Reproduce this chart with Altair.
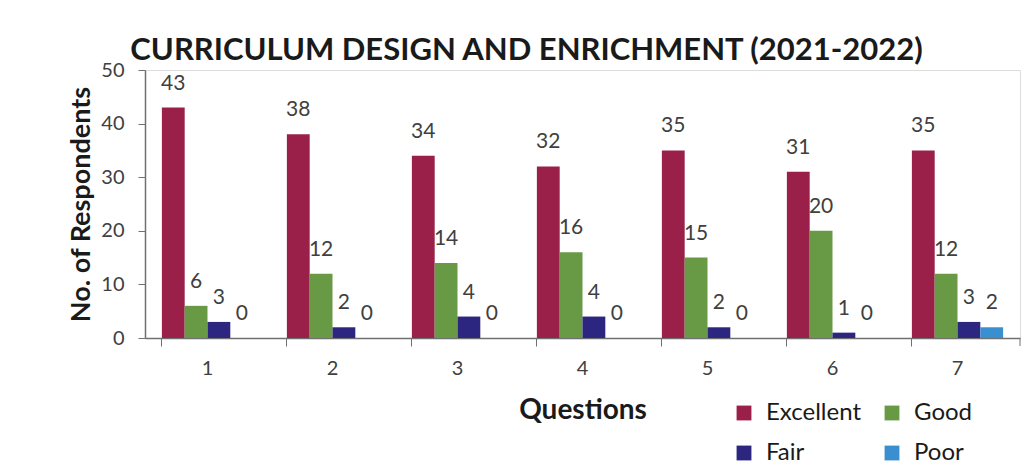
import altair as alt
import pandas as pd

questions = ["1", "2", "3", "4", "5", "6", "7"]
ratings = ["Excellent", "Good", "Fair", "Poor"]
excellent = [43, 38, 34, 32, 35, 31, 35]
good = [6, 12, 14, 16, 15, 20, 12]
fair = [3, 2, 4, 4, 2, 1, 3]
poor = [0, 0, 0, 0, 0, 0, 2]
colors = {"Excellent": "#9A2049", "Good": "#689A46", "Fair": "#2D2680", "Poor": "#3A8FD0"}
legend_order = ["Excellent", "Fair", "Good", "Poor"]

rows = []
for name, vals in zip(ratings, [excellent, good, fair, poor]):
    for q, v in zip(questions, vals):
        rows.append({"Question": q, "Rating": name, "Count": v})
df = pd.DataFrame(rows)

FONT = "Lato"
AXIS_GREY = "#707070"

x = alt.X("Question:N", sort=questions,
          scale=alt.Scale(paddingInner=0.27, paddingOuter=0.135),
          axis=alt.Axis(title="Questions", labelAngle=0, bandPosition=0,
                        tickSize=8, labelPadding=12,
                        labelFontSize=20, labelColor="#404040", labelFont=FONT,
                        titleFont=FONT, titleFontSize=28, titleFontWeight="bold",
                        titleColor="#1a1a1a", titlePadding=18,
                        domainColor=AXIS_GREY, tickColor=AXIS_GREY, domainWidth=1.5))
y = alt.Y("Count:Q", scale=alt.Scale(domain=[0, 50]),
          axis=alt.Axis(title="No. of Respondents", values=[0, 10, 20, 30, 40, 50],
                        grid=False, tickSize=7, labelPadding=14,
                        labelFontSize=20, labelColor="#404040", labelFont=FONT,
                        titleFont=FONT, titleFontSize=27, titleFontWeight="bold",
                        titleColor="#1a1a1a", titlePadding=5,
                        domainColor=AXIS_GREY, tickColor=AXIS_GREY, domainWidth=1.5))

color = alt.Color("Rating:N",
                  scale=alt.Scale(domain=legend_order, range=[colors[k] for k in legend_order]),
                  legend=alt.Legend(title=None, orient="none", legendX=587, legendY=331,
                                    columns=2, symbolType="square", symbolSize=220,
                                    symbolStrokeWidth=0, labelFontSize=24, labelFont=FONT,
                                    labelColor="#1a1a1a", labelOffset=10,
                                    columnPadding=18, rowPadding=16))

xoff = alt.XOffset("Rating:N", sort=ratings, scale=alt.Scale(paddingInner=0, paddingOuter=0))

base = alt.Chart(df).encode(x=x, xOffset=xoff)
bars = base.mark_bar().encode(y=y, color=color)
labels = base.mark_text(dy=-18, baseline="alphabetic", fontSize=21, font=FONT,
                        color="#404040").encode(y=alt.Y("Count:Q"), text="Count:Q")
# closing tick at the right end of the category axis
end_tick = alt.Chart(pd.DataFrame({"k": [0]})).mark_rule(color=AXIS_GREY, strokeWidth=1).encode(
    x=alt.value(875), y=alt.value(268), y2=alt.value(276))

chart = alt.layer(bars, labels, end_tick).properties(
    width=875, height=268,
    title=alt.TitleParams("CURRICULUM DESIGN AND ENRICHMENT (2021-2022)",
                          font=FONT, fontSize=31, fontWeight="bold", color="#1a1a1a",
                          anchor="middle", dx=-56, dy=15, offset=8),
    autosize=alt.AutoSizeParams(type="none"),
    padding={"left": 137, "top": 62, "right": 5, "bottom": 133},
).configure_view(stroke=None).configure(background="white")

chart.save("out.html", embed_options={"renderer": "svg", "actions": False})
